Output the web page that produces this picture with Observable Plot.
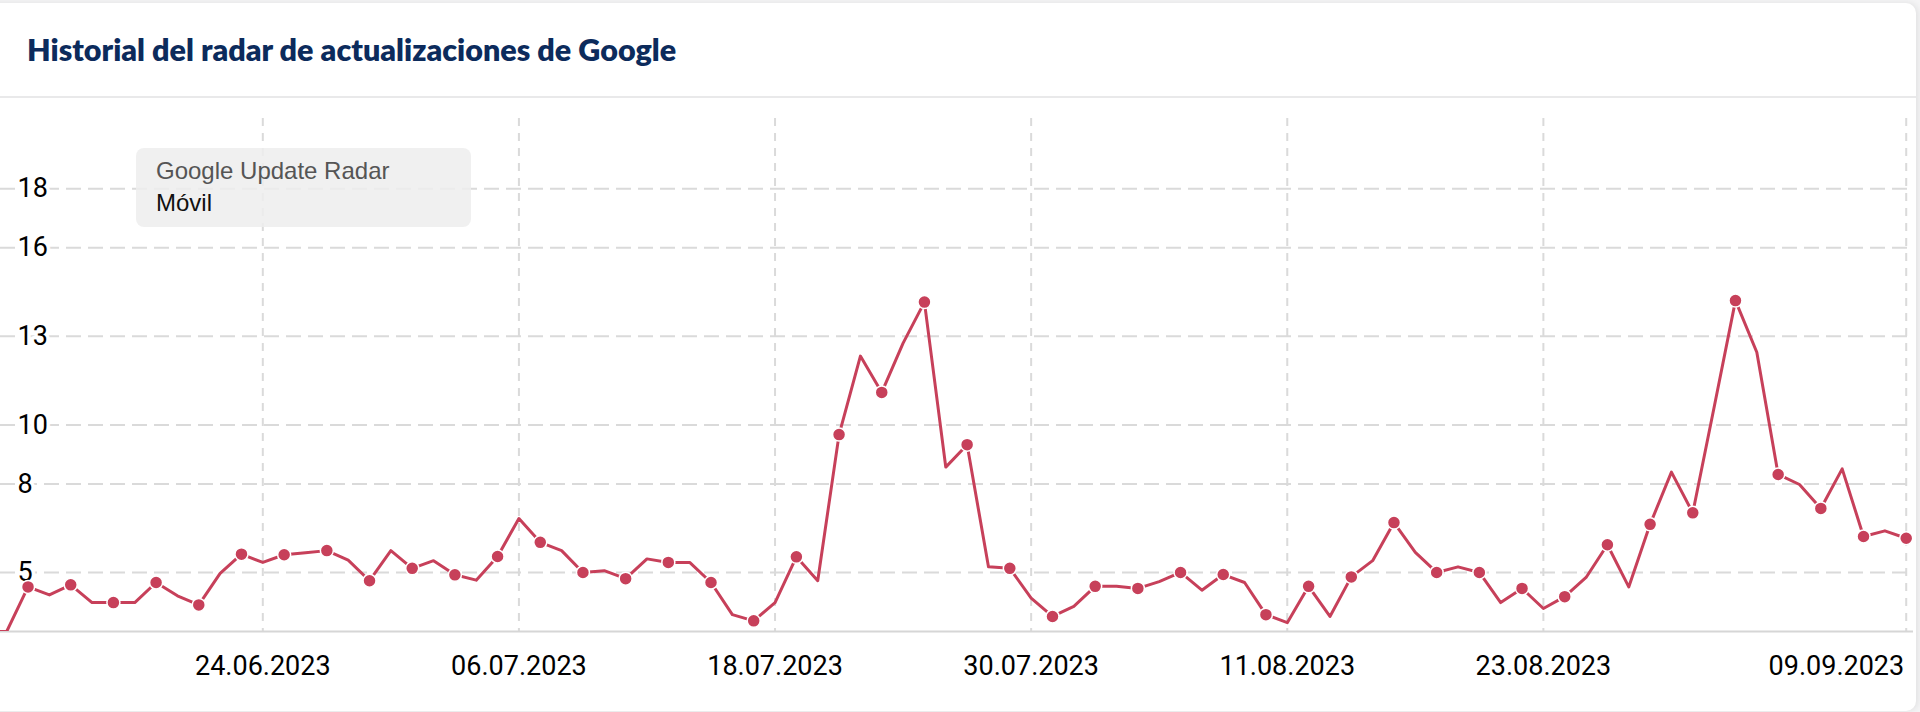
<!DOCTYPE html>
<html>
<head>
<meta charset="utf-8">
<script src="https://cdn.jsdelivr.net/npm/d3@7"></script>
<script src="https://cdn.jsdelivr.net/npm/@observablehq/plot@0.6"></script>
<style>
  html, body { margin: 0; padding: 0; width: 1920px; height: 712px; overflow: hidden; background: #f4f4f5; }
  #card { position: absolute; left: -20px; top: 3px; width: 1936px; height: 708px; background: #fff;
          border-radius: 0 10px 10px 0; box-shadow: 2px 0 6px rgba(0,0,0,0.08); }
  #header { position: absolute; left: 0; top: 3px; width: 1916px; height: 93px; border-bottom: 2px solid #e9e9ea; }
  #title { position: absolute; left: 27px; top: 31px; margin: 0; font-family: Lato, "Open Sans", sans-serif;
           font-weight: 800; font-size: 30.5px; line-height: 30.5px; color: #0c2b5c; white-space: nowrap; }
  #chart { position: absolute; left: 0; top: 98px; }
  #legend { position: absolute; left: 136px; top: 148px; width: 335px; height: 79px; box-sizing: border-box;
            padding: 7px 0 0 20px; border-radius: 8px; background: rgba(238,238,238,0.86);
            font-family: "Liberation Sans", Arial, sans-serif; font-size: 24px; line-height: 32px; }
  #legend .series { color: #555; }
  #legend .name { color: #111; }
</style>
</head>
<body>
<div id="card"></div>
<div id="header"><h1 id="title">Historial del radar de actualizaciones de Google</h1></div>
<div id="chart"></div>
<div id="legend"><div class="series">Google Update Radar</div><div class="name">Móvil</div></div>
<script>
// Daily series, starting 11.06.2023
const startDay = "2023-06-11";
const values = [
  // June 11–30
  3.0, 3.0, 4.51, 4.24, 4.58, 3.98, 3.98, 3.98, 4.66, 4.21,
  3.90, 4.97, 5.62, 5.34, 5.60, 5.67, 5.74, 5.42, 4.72, 5.74,
  // July 1–31
  5.14, 5.40, 4.92, 4.74, 5.54, 6.83, 6.02, 5.74, 5.00, 5.06,
  4.79, 5.46, 5.34, 5.34, 4.66, 3.57, 3.36, 3.98, 5.53, 4.72,
  9.67, 12.33, 11.10, 12.77, 14.16, 8.57, 9.33, 5.19, 5.14, 4.13,
  3.51,
  // August 1–31
  3.85, 4.53, 4.53, 4.46, 4.69, 5.00, 4.40, 4.93, 4.66, 3.57,
  3.30, 4.53, 3.51, 4.85, 5.40, 6.69, 5.68, 5.00, 5.19, 5.00,
  3.98, 4.46, 3.78, 4.18, 4.83, 5.94, 4.51, 6.63, 8.40, 7.02,
  10.6,
  // September 1–10
  14.21, 12.46, 8.32, 7.98, 7.17, 8.51, 6.22, 6.41, 6.16, 6.1
];
const xTickLabels = ["24.06.2023", "06.07.2023", "18.07.2023", "30.07.2023", "11.08.2023", "23.08.2023", "09.09.2023"];
const yTicks = [5, 8, 10, 13, 16, 18];

const parseDMY = d3.utcParse("%d.%m.%Y");
const fmt = d3.utcFormat("%d.%m.%Y");
const start = d3.utcParse("%Y-%m-%d")(startDay);
const data = values.map((v, i) => ({date: d3.utcDay.offset(start, i), value: v, marker: i % 2 === 0}));
const xTicks = xTickLabels.map(parseDMY);
const lastTick = xTicks[xTicks.length - 1];

const red = "#c7405a";
const grid = "#dadada";

const chart = Plot.plot({
  width: 1920,
  height: 610,
  marginLeft: 0,
  marginRight: 7,
  marginTop: 20,
  marginBottom: 77,
  x: {type: "utc", domain: [new Date(Date.UTC(2023, 5, 11, 17, 2)), new Date(Date.UTC(2023, 8, 9, 8, 12))], axis: null},
  y: {domain: [3, 20.38], axis: null},
  style: {background: "transparent", fontFamily: "Roboto, 'Liberation Sans', Arial, sans-serif", overflow: "visible"},
  marks: [
    Plot.ruleY(yTicks, {stroke: grid, strokeWidth: 2, strokeDasharray: "15,7"}),
    Plot.ruleX(xTicks, {stroke: grid, strokeWidth: 2, strokeDasharray: "8,7"}),
    Plot.ruleY([3], {stroke: "#d6d6d6", strokeWidth: 2}),
    Plot.text(yTicks, {y: d => d, text: d => String(d), frameAnchor: "left", dx: 17, textAnchor: "start",
      lineAnchor: "middle", fontSize: 27, fill: "#000", stroke: "white", strokeWidth: 7}),
    Plot.text(xTicks.slice(0, -1), {x: d => d, text: d => fmt(d), frameAnchor: "bottom", dy: 35,
      lineAnchor: "middle", textAnchor: "middle", fontSize: 27, fill: "#000"}),
    Plot.text([lastTick], {x: d => d, text: d => fmt(d), frameAnchor: "bottom", dy: 35, dx: -2,
      lineAnchor: "middle", textAnchor: "end", fontSize: 27, fill: "#000"}),
    Plot.line(data, {x: "date", y: "value", stroke: red, strokeWidth: 3, clip: true}),
    Plot.dot(data.filter(d => d.marker), {x: "date", y: "value", r: 6.5, fill: red, stroke: "white", strokeWidth: 1.5, clip: true})
  ]
});
document.getElementById("chart").appendChild(chart);
</script>
</body>
</html>
